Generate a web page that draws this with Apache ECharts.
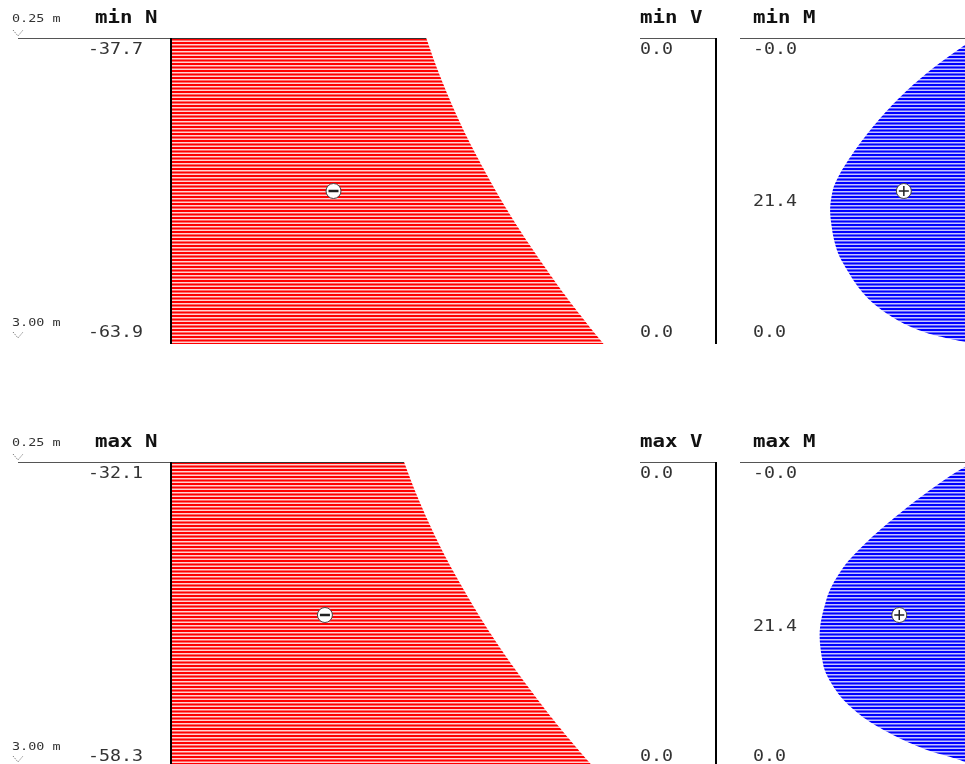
<!DOCTYPE html>
<html><head><meta charset="utf-8">
<script src="https://cdn.jsdelivr.net/npm/echarts@6/dist/echarts.min.js"></script>
<style>html,body{margin:0;padding:0;background:#fff}#c{width:965px;height:764px}</style>
</head><body><div id="c"></div>
<script>
// ---- data ----
const stations = [0.25, 3.00];                       // member ends, m
const sN   = [0.25, 0.475, 0.78, 1.077, 1.373, 1.679, 1.975, 2.272, 2.578, 2.874, 3.00];
const minN = [-37.7, -39.0, -41.0, -43.2, -45.7, -48.5, -51.5, -54.8, -58.4, -62.2, -63.9];
const maxN = [-32.1, -33.4, -35.4, -37.6, -40.1, -42.9, -45.9, -49.2, -52.8, -56.6, -58.3];
const sV   = [0.25, 3.00];
const minV = [0.0, 0.0];
const maxV = [0.0, 0.0];
const sMmin = [0.25, 0.313, 0.565, 0.807, 1.050, 1.283, 1.499, 1.616, 1.796, 1.975, 2.155, 2.335, 2.578, 2.784, 2.901, 2.982, 3.00];
const minM  = [-0.01, 1.5, 7.1, 11.5, 15.1, 18.0, 20.2, 21.0, 21.4, 21.1, 20.4, 18.9, 16.0, 11.5, 7.1, 1.5, 0.0];
const sMmax = [0.25, 0.295, 0.484, 0.708, 0.969, 1.203, 1.472, 1.805, 2.074, 2.317, 2.524, 2.703, 2.838, 2.946, 3.00];
const maxM  = [-0.01, 1.4, 5.8, 10.3, 14.9, 18.2, 20.4, 21.4, 20.9, 19.0, 15.8, 11.3, 6.6, 1.4, 0.0];
const titles = [['min N', 'min V', 'min M'], ['max N', 'max V', 'max M']];

// ---- layout ----
const ROW_TOP = [38, 462];
const PANEL_H = 306;
const UNIT_PX = [6.77, 7.26];
const PANELS = [{left: 171, width: 440}, {left: 640, width: 76}, {left: 740, width: 235}];
const FONT = '"DejaVu Sans Mono", monospace';

function stripeTile(full, light) {
  const c = document.createElement('canvas'); c.width = 4; c.height = 7;
  const g = c.getContext('2d');
  const rows = [1, 1, 0, 0.5, 1, 0.5, 0];
  rows.forEach((a, i) => {
    g.globalAlpha = 1; g.fillStyle = light; g.fillRect(0, i, 4, 1);
    g.globalAlpha = a; g.fillStyle = full; g.fillRect(0, i, 4, 1);
  });
  return c;
}
const redPat = {image: stripeTile('#ff0000', '#ffd2d2'), repeat: 'repeat'};
const bluePat = {image: stripeTile('#0000ff', '#c4c4ff'), repeat: 'repeat'};

function pchip(ys, xs, steps) {
  const n = ys.length, h = [], d = [], m = [];
  for (let i = 0; i < n - 1; i++) { h[i] = ys[i + 1] - ys[i]; d[i] = (xs[i + 1] - xs[i]) / h[i]; }
  m[0] = d[0]; m[n - 1] = d[n - 2];
  for (let i = 1; i < n - 1; i++) {
    if (d[i - 1] * d[i] <= 0) m[i] = 0;
    else { const w1 = 2 * h[i] + h[i - 1], w2 = h[i] + 2 * h[i - 1]; m[i] = (w1 + w2) / (w1 / d[i - 1] + w2 / d[i]); }
  }
  const out = [];
  for (let i = 0; i < n - 1; i++) {
    for (let k = 0; k < steps; k++) {
      const t = k / steps, t2 = t * t, t3 = t2 * t;
      const y = ys[i] + t * h[i];
      const x = (2 * t3 - 3 * t2 + 1) * xs[i] + (t3 - 2 * t2 + t) * h[i] * m[i] + (-2 * t3 + 3 * t2) * xs[i + 1] + (t3 - t2) * h[i] * m[i + 1];
      out.push([x, y]);
    }
  }
  out.push([xs[n - 1], ys[n - 1]]);
  return out;
}
function interp(s, v, at) {
  for (let i = 0; i < s.length - 1; i++) if (at >= s[i] && at <= s[i + 1]) return v[i] + (v[i + 1] - v[i]) * (at - s[i]) / (s[i + 1] - s[i]);
  return v[v.length - 1];
}
function label(x, y, text, align, size, bold, color) {
  return {type: 'text', x, y, scaleX: 1.22, z2: 10,
    style: {text, x: 0, y: 0, fill: color || '#333', font: (bold ? 'bold ' : '') + size + 'px ' + FONT, align, verticalAlign: 'middle'}};
}
function hline(x1, x2, y, color, w) {
  return {type: 'line', z2: 4, shape: {x1, y1: y, x2, y2: y}, style: {stroke: color, lineWidth: w}};
}
function vline(x, y1, y2, color, w) {
  return {type: 'line', z2: 4, shape: {x1: x, y1, x2: x, y2}, style: {stroke: color, lineWidth: w}};
}
function sign(c, plus) {
  const cx = c[0], cy = c[1];
  const g = [{type: 'circle', z2: 6, shape: {cx, cy, r: 7.5}, style: {fill: '#fff', stroke: '#444', lineWidth: 1}},
    {type: 'line', z2: 7, shape: {x1: cx - 5, y1: cy, x2: cx + 5, y2: cy}, style: {stroke: '#222', lineWidth: plus ? 1.5 : 2.5}}];
  if (plus) g.push({type: 'line', z2: 7, shape: {x1: cx, y1: cy - 5, x2: cx, y2: cy + 5}, style: {stroke: '#222', lineWidth: 1.5}});
  return g;
}
function chevron(x, y) {
  return {type: 'polyline', z2: 4, shape: {points: [[x - 5, y - 6], [x, y], [x + 5, y - 6]]},
    style: {stroke: '#555', lineWidth: 1, lineDash: [1, 1.5], fill: null}};
}

function makeRender(r, p) {
  return function (params, api) {
    const cs = params.coordSys;
    const S0 = stations[0], S1 = stations[1];
    const b0 = api.coord([0, S0]), b1 = api.coord([0, S1]);
    const yTop = Math.round(b0[1]) + 0.5;
    let s, v, fill;
    if (p === 0) { s = sN; v = r ? maxN : minN; fill = redPat; }
    else if (p === 1) { s = sV; v = r ? maxV : minV; fill = redPat; }
    else { s = r ? sMmax : sMmin; v = r ? maxM : minM; fill = bluePat; }
    const pts = s.map((si, i) => api.coord([v[i], si]));
    const curve = pchip(pts.map(q => q[1]), pts.map(q => q[0]), 14);
    const kids = [];
    kids.push({type: 'polygon', z2: 1, shape: {points: [b0].concat(curve, [b1])}, style: {fill, stroke: null}});
    const last = v.length - 1;
    const mid = (S0 + S1) / 2;
    if (p === 0) {
      const xL = b0[0] - 153;
      kids.push(hline(xL, b0[0], yTop, '#555', 1));
      kids.push(hline(b0[0], pts[0][0], yTop, '#333', 1));
      kids.push(vline(b0[0], b0[1], b1[1], '#000', 2));
      kids.push(label(b0[0] - 76, b0[1] - 19, titles[r][p], 'left', 17, true, '#111'));
      kids.push(label(b0[0] - 28, b0[1] + 12.5, v[0].toFixed(1), 'right', 15, false));
      kids.push(label(b0[0] - 28, b1[1] - 11, v[last].toFixed(1), 'right', 15, false));
      kids.push(label(xL - 6, b0[1] - 18.5, S0.toFixed(2) + ' m', 'left', 11, false));
      kids.push(label(xL - 6, b1[1] - 20.5, S1.toFixed(2) + ' m', 'left', 11, false));
      kids.push(chevron(xL, b0[1] - 2));
      kids.push(chevron(xL, b1[1] - 6));
      kids.push.apply(kids, sign(api.coord([interp(s, v, mid) / 2, mid]), false));
    } else if (p === 1) {
      kids.push(hline(cs.x, b0[0], yTop, '#555', 1));
      kids.push(vline(b0[0], b0[1], b1[1], '#000', 2));
      kids.push(label(cs.x, b0[1] - 19, titles[r][p], 'left', 17, true, '#111'));
      kids.push(label(cs.x, b0[1] + 12.5, v[0].toFixed(1), 'left', 15, false));
      kids.push(label(cs.x, b1[1] - 11, v[last].toFixed(1), 'left', 15, false));
    } else {
      kids.push(hline(cs.x, b0[0], yTop, '#555', 1));
      kids.push(vline(b0[0], b0[1], b1[1], '#000', 2));
      kids.push(label(cs.x + 13, b0[1] - 19, titles[r][p], 'left', 17, true, '#111'));
      kids.push(label(cs.x + 13, b0[1] + 12.5, v[0].toFixed(1), 'left', 15, false));
      kids.push(label(cs.x + 13, b1[1] - 11, v[last].toFixed(1), 'left', 15, false));
      let im = 0; v.forEach((x, i) => { if (x > v[im]) im = i; });
      const pm = api.coord([v[im], s[im]]);
      kids.push(label(cs.x + 13, pm[1] - 8, v[im].toFixed(1), 'left', 15, false));
      kids.push.apply(kids, sign(api.coord([interp(s, v, mid) / 2, mid]), true));
    }
    return {type: 'group', children: kids};
  };
}

const grids = [], xAxes = [], yAxes = [], series = [];
for (let r = 0; r < 2; r++) {
  const k = UNIT_PX[r];
  PANELS.forEach((d, p) => {
    grids.push({left: d.left, top: ROW_TOP[r], width: d.width, height: PANEL_H, containLabel: false, outerBoundsMode: 'none', show: false});
    const gi = grids.length - 1;
    let mn, mx;
    if (p === 0) { mn = -d.width / k; mx = 0; }
    else if (p === 1) { mn = 0; mx = 1; }
    else { mn = 0; mx = d.width / k; }
    xAxes.push({type: 'value', gridIndex: gi, min: mn, max: mx, inverse: true, show: false});
    yAxes.push({type: 'value', gridIndex: gi, min: stations[0], max: stations[1], inverse: true, show: false});
    series.push({type: 'custom', xAxisIndex: gi, yAxisIndex: gi, data: [[0, stations[0]]], clip: false, silent: true, renderItem: makeRender(r, p)});
  });
}

const chart = echarts.init(document.getElementById('c'), null, {renderer: 'canvas'});
chart.setOption({animation: false, backgroundColor: '#fff', grid: grids, xAxis: xAxes, yAxis: yAxes, series});
</script></body></html>
